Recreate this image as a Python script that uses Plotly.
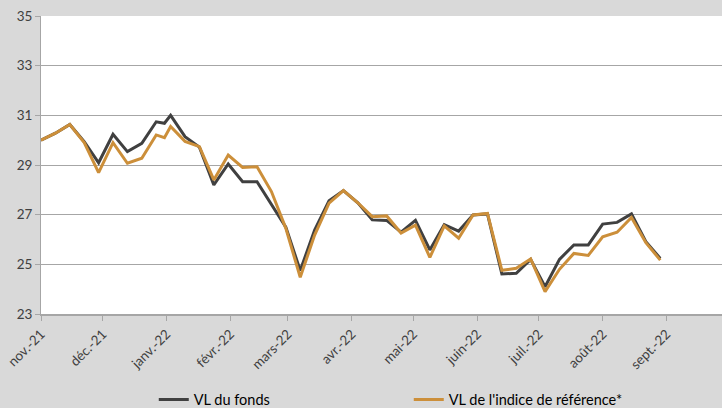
import plotly.graph_objects as go

dates = [
    "2021-11-01", "2021-11-08", "2021-11-15", "2021-11-22", "2021-11-29",
    "2021-12-06", "2021-12-13", "2021-12-20", "2021-12-27", "2021-12-31",
    "2022-01-03", "2022-01-10", "2022-01-17", "2022-01-24", "2022-01-31",
    "2022-02-07", "2022-02-14", "2022-02-21", "2022-02-28",
    "2022-03-07", "2022-03-14", "2022-03-21", "2022-03-28",
    "2022-04-04", "2022-04-11", "2022-04-18", "2022-04-25",
    "2022-05-02", "2022-05-09", "2022-05-16", "2022-05-23", "2022-05-30",
    "2022-06-06", "2022-06-13", "2022-06-20", "2022-06-27",
    "2022-07-04", "2022-07-11", "2022-07-18", "2022-07-25",
    "2022-08-01", "2022-08-08", "2022-08-15", "2022-08-22", "2022-08-29",
]

vl_fonds = [
    30.0, 30.28, 30.63, 29.94, 29.09,
    30.24, 29.54, 29.87, 30.74, 30.68,
    31.0, 30.14, 29.72, 28.2, 29.04,
    28.33, 28.33, 27.4, 26.5,
    24.75, 26.38, 27.56, 27.97,
    27.48, 26.79, 26.77, 26.3,
    26.77, 25.58, 26.6, 26.34, 26.99,
    27.03, 24.61, 24.64, 25.2,
    24.1, 25.2, 25.78, 25.78,
    26.62, 26.69, 27.03, 25.91, 25.24,
]

vl_indice = [
    30.0, 30.28, 30.63, 29.9, 28.69,
    29.9, 29.07, 29.27, 30.21, 30.1,
    30.55, 29.95, 29.74, 28.4, 29.4,
    28.9, 28.93, 27.93, 26.45,
    24.48, 26.18, 27.46, 27.97,
    27.48, 26.92, 26.95, 26.26,
    26.58, 25.28, 26.55, 26.05, 26.99,
    27.05, 24.76, 24.84, 25.22,
    23.9, 24.8, 25.44, 25.36,
    26.11, 26.29, 26.89, 25.87, 25.17,
]

tick_dates = ["2021-11-01", "2021-12-01", "2022-01-01", "2022-02-01", "2022-03-01",
              "2022-04-01", "2022-05-01", "2022-06-01", "2022-07-01", "2022-08-01",
              "2022-09-01"]
tick_labels = ["nov.-21", "déc.-21", "janv.-22", "févr.-22", "mars-22", "avr.-22",
               "mai-22", "juin-22", "juil.-22", "août-22", "sept.-22"]

font_family = "Lato, 'Open Sans', sans-serif"
text_color = "#404040"

fig = go.Figure()
fig.add_trace(go.Scatter(x=dates, y=vl_fonds, mode="lines", name="VL du fonds",
                         line=dict(color="#404040", width=3)))
fig.add_trace(go.Scatter(x=dates, y=vl_indice, mode="lines",
                         name="VL de l'indice de référence*",
                         line=dict(color="#CC8F3A", width=3)))

fig.update_layout(
    width=722, height=408,
    margin=dict(l=41, r=0, t=16, b=94, autoexpand=False),
    paper_bgcolor="#D9D9D9",
    plot_bgcolor="#FFFFFF",
    font=dict(family=font_family, size=13, color=text_color),
    showlegend=True,
    legend=dict(orientation="h", x=0.1656, xanchor="left", y=-0.287, yanchor="middle",
                bgcolor="rgba(0,0,0,0)", entrywidth=210, entrywidthmode="pixels",
                font=dict(size=14.5, color="#000000"), itemwidth=30),
)

fig.update_xaxes(
    type="date", automargin=False,
    range=["2021-11-01", "2022-09-28"],
    tickmode="array", tickvals=tick_dates, ticktext=tick_labels,
    tickangle=-45,
    showgrid=False, zeroline=False,
    showline=True, linecolor="#A6A6A6", linewidth=2,
    ticks="outside", ticklen=5, tickcolor="#A6A6A6",
    tickfont=dict(size=13.5, color=text_color),
)
fig.update_yaxes(
    range=[23, 35], dtick=2, tick0=23, automargin=False,
    showgrid=True, gridcolor="#A6A6A6", gridwidth=1,
    zeroline=False,
    showline=True, linecolor="#A6A6A6", linewidth=1,
    ticks="outside", ticklen=5, tickcolor="#A6A6A6",
    tickfont=dict(size=13.5, color=text_color),
)

post = ("document.body.style.margin='0';document.body.style.padding='0';"
        "document.body.style.overflow='hidden';"
        "document.documentElement.style.overflow='hidden';"
        "var gd=document.getElementsByClassName('plotly-graph-div')[0];"
        "Plotly.relayout(gd,{width:722,height:408});")

fig.write_html("out.html", config={"responsive": False, "displayModeBar": False},
               post_script=post)
